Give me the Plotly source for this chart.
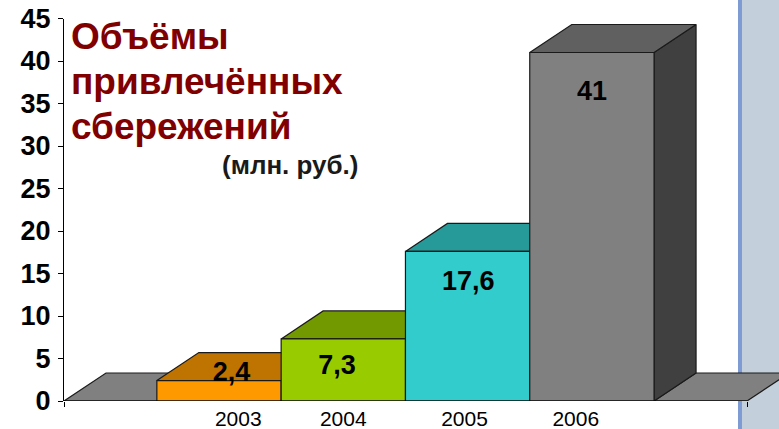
import plotly.graph_objects as go

years = ["2003", "2004", "2005", "2006"]
values = [2.4, 7.3, 17.6, 41]
value_labels = ["2,4", "7,3", "17,6", "41"]
label_y = [3.2, 4.0, 13.9, 36.15]
label_x_shift = [0.1, -0.05, 0.005, 0.0]
year_tick_pos = [0.155, 1.0, 1.975, 2.87]
y_ticks = list(range(0, 50, 5))
front_colors = ["#FF9900", "#99CC00", "#33CCCC", "#808080"]
top_colors = ["#BF7300", "#739900", "#269999", "#606060"]
side_color = "#404040"
floor_color = "#808080"
edge = "#1a1a1a"

W, H = 779, 429
PX_X0, PX_UNIT = 219.0, 124.3       # pixel of first bar centre, pixels per bar
PX_Y0, PX_PER_Y = 401.0, 8.5
DX = 42 / PX_UNIT                   # 3D depth in data units
DY = 28 / PX_PER_Y
x_left = (64 - PX_X0) / PX_UNIT
x_right = (747 - PX_X0) / PX_UNIT
x_max = (W - PX_X0) / PX_UNIT
y_max = 45.0

fig = go.Figure()


def poly(xs, ys, color):
    fig.add_trace(go.Scatter(
        x=xs + xs[:1], y=ys + ys[:1], mode="lines", fill="toself", fillcolor=color,
        line=dict(color=edge, width=1.2), hoverinfo="skip", showlegend=False, cliponaxis=False))


# floor left and right of the bars
poly([x_left, -0.5, -0.5 + DX, x_left + DX], [0, 0, DY, DY], floor_color)
poly([3.5, x_right, x_right + DX, 3.5 + DX], [0, 0, DY, DY], floor_color)

for i, v in enumerate(values):
    l, r = i - 0.5, i + 0.5
    poly([r, r + DX, r + DX, r], [0, DY, v + DY, v], side_color)
    poly([l, r, r + DX, l + DX], [v, v, v + DY, v + DY], top_colors[i])
    poly([l, r, r, l], [0, 0, v, v], front_colors[i])

# base line of the x axis
fig.add_trace(go.Scatter(x=[x_left, x_right], y=[0, 0], mode="lines",
                         line=dict(color="black", width=1.2), hoverinfo="skip",
                         showlegend=False, cliponaxis=False))

# value labels
fig.add_trace(go.Scatter(
    x=[i + s for i, s in enumerate(label_x_shift)], y=label_y, mode="text", text=value_labels,
    textposition="middle center",
    textfont=dict(family="Liberation Sans", size=27, color="black", weight="bold"),
    hoverinfo="skip", showlegend=False, cliponaxis=False))

bold_red = dict(family="Liberation Sans", size=37, color="#800000", weight="bold")
for txt, py in [("Объёмы", 36), ("привлечённых", 82), ("сбережений", 126)]:
    fig.add_annotation(text=txt, xref="paper", yref="paper",
                       x=69 / W, y=(H - py) / H,
                       xanchor="left", yanchor="middle", showarrow=False, font=bold_red)
fig.add_annotation(text="(млн. руб.)", xref="paper", yref="paper",
                   x=290 / W, y=(H - 165) / H,
                   xanchor="center", yanchor="middle", showarrow=False,
                   font=dict(family="Liberation Sans", size=26, color="#1a1a1a", weight="bold"))

fig.update_layout(
    width=W, height=H, margin=dict(l=0, r=0, t=0, b=0), autosize=False,
    paper_bgcolor="white", plot_bgcolor="rgba(0,0,0,0)", showlegend=False,
    shapes=[
        dict(type="rect", xref="paper", yref="paper", layer="below", line_width=0,
             fillcolor="#C3D0DC", x0=742 / W, x1=1, y0=0, y1=1),
        dict(type="rect", xref="paper", yref="paper", layer="below", line_width=0,
             fillcolor="#7F9BD3", x0=738 / W, x1=742 / W, y0=0, y1=1),
    ],
    xaxis=dict(
        automargin=False,
        domain=[64 / W, 1], range=[x_left, x_max], showgrid=False, zeroline=False, showline=False,
        tickmode="array", tickvals=year_tick_pos, ticktext=years, ticks="", ticklabelstandoff=3,
        tickfont=dict(family="Liberation Sans", size=21, color="black"),
        minor=dict(tickmode="array", tickvals=[x_left, x_right], ticks="outside", ticklen=5,
                   tickcolor="black", tickwidth=1, showgrid=False),
    ),
    yaxis=dict(
        automargin=False,
        domain=[(H - PX_Y0) / H, (H - PX_Y0 + y_max * PX_PER_Y) / H], range=[0, y_max],
        showgrid=False, zeroline=False, showline=True, linecolor="black", linewidth=1,
        tickmode="array", tickvals=y_ticks, ticks="outside", ticklen=5, tickcolor="black",
        ticklabelstandoff=2,
        tickfont=dict(family="Liberation Sans", size=27, color="black", weight="bold"),
    ),
)

fig.write_html("out.html", config={"displayModeBar": False},
               post_script="document.body.style.margin='0';")
